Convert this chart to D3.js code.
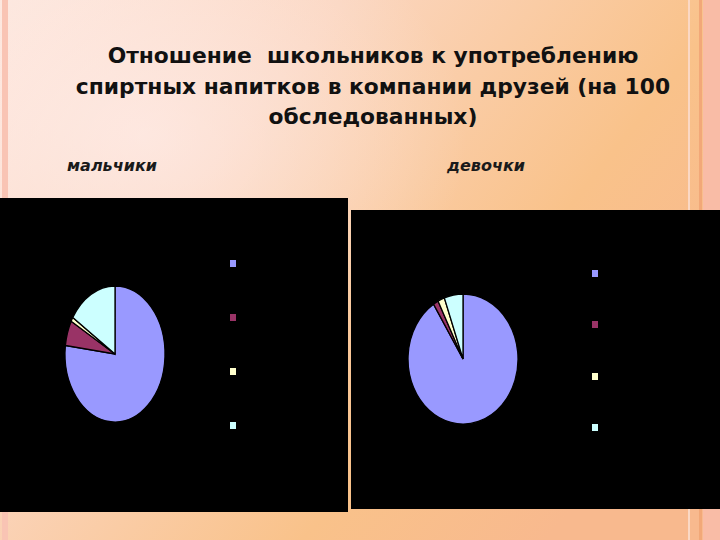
<!DOCTYPE html>
<html>
<head>
<meta charset="utf-8">
<script src="https://cdn.jsdelivr.net/npm/d3@7"></script>
<style>
  body { margin: 0; }
  svg { display: block; }
</style>
</head>
<body>
<svg id="slide" width="720" height="540"></svg>
<script>
// data
const categories = [["отрицательно"], ["положительно"], ["безразлично"], ["затрудняюсь", "ответить"]];
const boysValues = [77, 6, 1, 16];
const girlsValues = [91, 1.5, 2, 5.5];
const sliceColors = ["#9999ff", "#993366", "#ffffcc", "#ccffff"];
const titleLines = [
    "Отношение  школьников к употреблению",
    "спиртных напитков в компании друзей (на 100",
    "обследованных)"
];

const svg = d3.select("#slide");
const defs = svg.append("defs");

// slide background
const bg = defs.append("linearGradient").attr("id", "bg")
    .attr("x1", "0").attr("y1", "0").attr("x2", "1").attr("y2", "0.6");
bg.append("stop").attr("offset", "0").attr("stop-color", "#fde6dc");
bg.append("stop").attr("offset", "0.35").attr("stop-color", "#fbd6c0");
bg.append("stop").attr("offset", "0.75").attr("stop-color", "#f9c28a");
bg.append("stop").attr("offset", "1").attr("stop-color", "#f8b98e");

const glow = defs.append("radialGradient").attr("id", "glow")
    .attr("cx", "0.2").attr("cy", "0.25").attr("r", "0.45");
glow.append("stop").attr("offset", "0").attr("stop-color", "#fff0f0").attr("stop-opacity", 0.6);
glow.append("stop").attr("offset", "1").attr("stop-color", "#fff0f0").attr("stop-opacity", 0);

svg.append("rect").attr("width", 720).attr("height", 540).attr("fill", "url(#bg)");
svg.append("rect").attr("width", 720).attr("height", 540).attr("fill", "url(#glow)");

// frame stripes
svg.append("rect").attr("x", 2).attr("y", 0).attr("width", 6).attr("height", 540).attr("fill", "#f9c4b4");
svg.append("rect").attr("x", 688).attr("y", 0).attr("width", 2).attr("height", 540).attr("fill", "#fbd8c4");
svg.append("rect").attr("x", 699).attr("y", 0).attr("width", 3).attr("height", 540).attr("fill", "#f2a878");
svg.append("rect").attr("x", 703).attr("y", 0).attr("width", 17).attr("height", 540).attr("fill", "#f9bca6");

// title
svg.append("text")
    .attr("x", 373).attr("y", 63)
    .attr("text-anchor", "middle")
    .attr("font-family", "DejaVu Sans")
    .attr("font-weight", "bold")
    .attr("font-size", 21.8)
    .attr("fill", "#111")
    .style("white-space", "pre")
    .selectAll("tspan")
    .data(titleLines)
    .join("tspan")
    .attr("x", 373)
    .attr("dy", (d, i) => i === 0 ? 0 : 30.5)
    .text(d => d);

// pie panels
const panels = [
    {label: "мальчики", labelX: 67, values: boysValues,
     box: {x: 0, y: 198, w: 348, h: 314},
     cx: 115, cy: 354, rx: 50, ry: 68, legendX: 233, legendY: [264, 318, 372, 426]},
    {label: "девочки", labelX: 447, values: girlsValues,
     box: {x: 351, y: 210, w: 369, h: 299},
     cx: 463, cy: 359, rx: 55, ry: 65, legendX: 595, legendY: [274, 325, 377, 428]}
];

const pie = d3.pie().sort(null).value(d => d);
const arc = d3.arc().innerRadius(0).outerRadius(1);

panels.forEach(p => {
    svg.append("text")
        .attr("x", p.labelX).attr("y", 171)
        .attr("font-family", "DejaVu Sans")
        .attr("font-style", "italic")
        .attr("font-weight", "bold")
        .attr("font-size", 16)
        .attr("fill", "#1a1a1a")
        .text(p.label);

    svg.append("rect")
        .attr("x", p.box.x).attr("y", p.box.y)
        .attr("width", p.box.w).attr("height", p.box.h)
        .attr("fill", "#000");

    // ellipse pie: unit arcs scaled to rx/ry
    svg.append("g")
        .attr("transform", `translate(${p.cx},${p.cy}) scale(${p.rx},${p.ry})`)
        .selectAll("path")
        .data(pie(p.values))
        .join("path")
        .attr("d", arc)
        .attr("fill", (d, i) => sliceColors[i])
        .attr("stroke", "#000")
        .attr("stroke-width", 1.3)
        .attr("vector-effect", "non-scaling-stroke");

    // legend (text is black on black, as in the original)
    const lg = svg.append("g");
    categories.forEach((c, i) => {
        lg.append("rect")
            .attr("x", p.legendX - 3).attr("y", p.legendY[i] - 4)
            .attr("width", 6).attr("height", 7)
            .attr("fill", sliceColors[i]);
        lg.append("text")
            .attr("x", p.legendX + 12).attr("y", p.legendY[i] + 4)
            .attr("font-family", "DejaVu Sans")
            .attr("font-size", 11)
            .attr("fill", "#000")
            .selectAll("tspan")
            .data(c)
            .join("tspan")
            .attr("x", p.legendX + 12)
            .attr("dy", (d, j) => j === 0 ? 0 : 14)
            .text(d => d);
    });
});
</script>
</body>
</html>
